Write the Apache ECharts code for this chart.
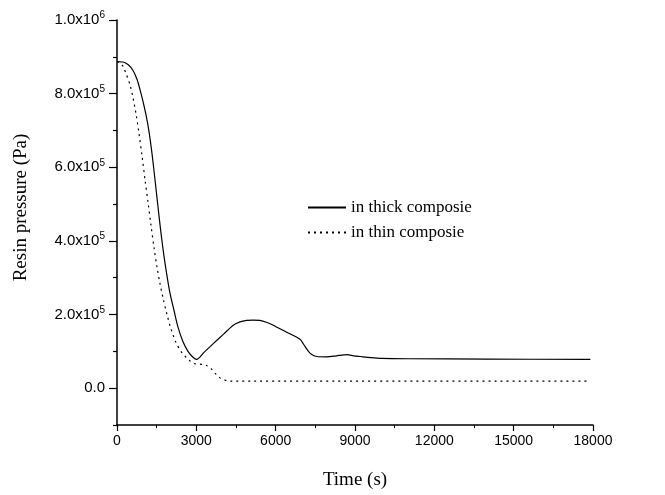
<!DOCTYPE html>
<html><head><meta charset="utf-8">
<script src="https://cdn.jsdelivr.net/npm/echarts@6/dist/echarts.min.js"></script>
<style>html,body{margin:0;padding:0;background:#fff}#c{width:665px;height:495px}</style>
</head><body><div id="c"></div>
<script>
// Time (s), Resin pressure (Pa)
const thickTime = [0,227,416,605,756,870,983,1097,1210,1324,1437,1551,1664,1778,1891,2004,2156,2307,2496,2685,2874,3007,3300,3641,4019,4397,4650,4900,5150,5400,5650,5908,6413,6917,7050,7200,7350,7550,7925,8300,8500,8700,8950,9200,9600,10000,11000,14000,17900];
const thickPressure = [8.87e5,8.86e5,8.79e5,8.63e5,8.39e5,8.11e5,7.79e5,7.42e5,6.97e5,6.37e5,5.66e5,4.92e5,4.21e5,3.58e5,3.05e5,2.58e5,2.11e5,1.66e5,1.26e5,1.0e5,0.84e5,0.78e5,0.98e5,1.21e5,1.46e5,1.71e5,1.80e5,1.84e5,1.85e5,1.84e5,1.79e5,1.71e5,1.52e5,1.33e5,1.2e5,1.04e5,0.92e5,0.86e5,0.85e5,0.88e5,0.9e5,0.91e5,0.88e5,0.86e5,0.83e5,0.81e5,0.8e5,0.79e5,0.78e5];
const thinTime = [0,113,227,340,491,605,719,832,945,1059,1172,1286,1399,1513,1626,1740,1891,2042,2231,2420,2610,2761,2912,3063,3253,3404,3555,3706,3895,4085,4274,17900];
const thinPressure = [8.87e5,8.84e5,8.74e5,8.55e5,8.24e5,7.89e5,7.45e5,6.92e5,6.32e5,5.66e5,5.05e5,4.42e5,3.82e5,3.29e5,2.84e5,2.45e5,2.0e5,1.61e5,1.24e5,1.0e5,0.84e5,0.74e5,0.67e5,0.66e5,0.64e5,0.61e5,0.53e5,0.41e5,0.28e5,0.22e5,0.19e5,0.19e5];
const seriesNames = ['in thick composie','in thin composie'];
const xTicks = [0,3000,6000,9000,12000,15000,18000];
const yMajor = [0,2e5,4e5,6e5,8e5,1e6];
const yMinor = [-1e5,1e5,3e5,5e5,7e5,9e5];

const zip = (a,b)=>a.map((t,i)=>[t,b[i]]);
function fmt(v){
  if (v===0) return '0.0';
  const e = Math.floor(Math.log10(v)+1e-9);
  const m = (v/Math.pow(10,e)).toFixed(1);
  return m + 'x10{sup|' + e + '}';
}
const chart = echarts.init(document.getElementById('c'), null, {renderer:'canvas'});
const sans = 'Liberation Sans, Arial, sans-serif';
const serif = 'Liberation Serif, Times New Roman, serif';
chart.setOption({
  animation:false,
  backgroundColor:'#fff',
  grid:{left:117,right:72,top:20,bottom:57,containLabel:false},
  legend:{
    left:302, top:194, orient:'vertical', itemWidth:38, itemHeight:14, itemGap:8,
    itemStyle:{opacity:0},
    textStyle:{fontFamily:serif, fontSize:17, color:'#000'},
    data:seriesNames
  },
  xAxis:{
    type:'value', min:0, max:18000, interval:3000,
    name:'Time (s)', nameLocation:'middle', nameGap:46,
    nameTextStyle:{fontFamily:serif, fontSize:19, color:'#000'},
    axisLine:{show:true, onZero:false, lineStyle:{color:'#000', width:1.5}},
    axisTick:{show:true, inside:false, length:6, lineStyle:{color:'#000', width:1.2}},
    minorTick:{show:true, splitNumber:2, length:3, lineStyle:{color:'#000', width:1}},
    axisLabel:{margin:9, fontFamily:sans, fontSize:14, color:'#000', customValues:xTicks, formatter:v=>String(v)},
    splitLine:{show:false}
  },
  yAxis:[{
    type:'value', min:-1e5, max:1e6, interval:1e5,
    name:'Resin pressure (Pa)', nameLocation:'middle', nameGap:86, nameRotate:90,
    nameTextStyle:{fontFamily:serif, fontSize:19, color:'#000', padding:[0,0,0,30]},
    axisLine:{show:true, onZero:false, lineStyle:{color:'#000', width:1.5}},
    axisTick:{show:true, inside:false, length:8, customValues:yMajor, lineStyle:{color:'#000', width:1.2}},
    axisLabel:{margin:12, customValues:yMajor, formatter:fmt, fontFamily:sans, fontSize:15, color:'#000',
      rich:{sup:{fontFamily:sans, fontSize:10, color:'#000', verticalAlign:'top', padding:[0,0,9,0]}}},
    splitLine:{show:false}
  },{
    type:'value', min:-1e5, max:1e6, interval:1e5, position:'left',
    axisLine:{show:false},
    axisTick:{show:true, inside:false, length:4, customValues:yMinor, lineStyle:{color:'#000', width:1.2}},
    axisLabel:{show:false}, splitLine:{show:false}
  }],
  series:[
    {name:seriesNames[0], type:'line', smooth:0.3, symbol:'none', data:zip(thickTime,thickPressure),
     lineStyle:{color:'#000', width:1.2}, itemStyle:{color:'#000'}},
    {name:seriesNames[1], type:'line', smooth:0.3, symbol:'none', data:zip(thinTime,thinPressure),
     lineStyle:{color:'#000', width:1.2, type:[2,4]}, itemStyle:{color:'#000'}}
  ]
});
</script></body></html>
